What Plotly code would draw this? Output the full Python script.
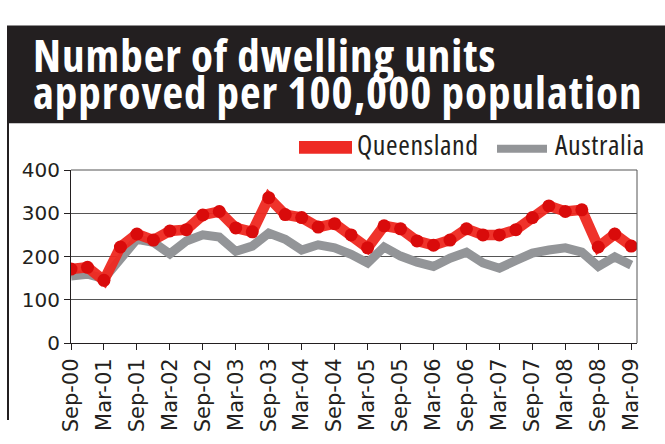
import plotly.graph_objects as go

quarters = ["Sep-00", "Dec-00", "Mar-01", "Jun-01", "Sep-01", "Dec-01", "Mar-02", "Jun-02",
            "Sep-02", "Dec-02", "Mar-03", "Jun-03", "Sep-03", "Dec-03", "Mar-04", "Jun-04",
            "Sep-04", "Dec-04", "Mar-05", "Jun-05", "Sep-05", "Dec-05", "Mar-06", "Jun-06",
            "Sep-06", "Dec-06", "Mar-07", "Jun-07", "Sep-07", "Dec-07", "Mar-08", "Jun-08",
            "Sep-08", "Dec-08", "Mar-09"]

queensland = [171, 175, 145, 222, 252, 238, 259, 262, 296, 304, 266, 257, 336, 297, 290, 268,
              276, 250, 220, 271, 264, 236, 226, 238, 264, 250, 250, 262, 290, 317, 304, 308,
              222, 252, 224]

australia = [155, 159, 149, 191, 240, 233, 206, 236, 250, 245, 212, 224, 254, 240, 215, 227,
             220, 205, 185, 222, 201, 187, 177, 196, 210, 185, 173, 191, 208, 215, 220, 210,
             177, 199, 180]

tick_labels = quarters[::2]
y_ticks = [0, 100, 200, 300, 400]

title_lines = ["Number of dwelling units", "approved per 100,000 population"]
series_names = ["Queensland", "Australia"]

W, H = 665, 444
L, R, T, B = 71, 28, 170, 83
PW, PH = W - L - R, H - T - B


def px(xp):
    return (xp - L) / PW


def py(yp):
    return (H - B - yp) / PH


def condensed(s, spacing):
    return ('<span style="font-stretch:condensed;letter-spacing:%spx">' % spacing) + s + '</span>'


RED = "rgba(238,40,32,0.95)"
RED_DOT = "#d90b0b"
GRAY = "#939598"
INK = "#231f20"
TFONT = "Open Sans"

fig = go.Figure()
fig.add_trace(go.Scatter(x=quarters, y=australia, mode="lines", name=series_names[1],
                         line=dict(color=GRAY, width=9), hoverinfo="skip"))
fig.add_trace(go.Scatter(x=quarters, y=queensland, mode="lines+markers", name=series_names[0],
                         line=dict(color=RED, width=10.5),
                         marker=dict(size=13, color=RED_DOT), hoverinfo="skip"))

shapes = [
    dict(type="rect", xref="paper", yref="paper", x0=px(7), x1=px(667), y0=py(118.5), y1=py(10.5),
         fillcolor=INK, line=dict(width=0), layer="below"),
    dict(type="line", xref="paper", yref="paper", x0=px(8), x1=px(8), y0=py(118), y1=py(446),
         line=dict(color=INK, width=2)),
    dict(type="line", xref="paper", yref="paper", x0=1, x1=1, y0=0, y1=1,
         line=dict(color="#555555", width=1)),
    dict(type="line", xref="paper", yref="paper", x0=0, x1=1, y0=1, y1=1,
         line=dict(color="#555555", width=1)),
    dict(type="rect", xref="paper", yref="paper", x0=px(299), x1=px(352), y0=py(152), y1=py(138),
         fillcolor="#ee2b24", line=dict(width=0)),
    dict(type="rect", xref="paper", yref="paper", x0=px(497), x1=px(547), y0=py(151), y1=py(142),
         fillcolor=GRAY, line=dict(width=0)),
]

annotations = [
    dict(text=condensed(title_lines[0], 1), xref="paper", yref="paper", x=px(31), y=py(42.5),
         xanchor="left", yanchor="middle", showarrow=False,
         font=dict(family=TFONT, size=45, color="white", weight="bold")),
    dict(text=condensed(title_lines[1], 1), xref="paper", yref="paper", x=px(31), y=py(83),
         xanchor="left", yanchor="middle", showarrow=False,
         font=dict(family=TFONT, size=45, color="white", weight="bold")),
    dict(text=condensed(series_names[0], 0.6), xref="paper", yref="paper", x=px(355), y=py(141.5),
         xanchor="left", yanchor="middle", showarrow=False,
         font=dict(family=TFONT, size=28, color=INK)),
    dict(text=condensed(series_names[1], 0.6), xref="paper", yref="paper", x=px(553), y=py(141.5),
         xanchor="left", yanchor="middle", showarrow=False,
         font=dict(family=TFONT, size=28, color=INK)),
]

fig.update_layout(
    width=W, height=H,
    margin=dict(l=L, r=R, t=T, b=B, pad=0),
    paper_bgcolor="white", plot_bgcolor="white",
    showlegend=False,
    shapes=shapes, annotations=annotations,
    xaxis=dict(range=[0, 34.35], tickmode="array", tickvals=tick_labels, ticktext=tick_labels,
               tickangle=-90, ticks="outside", ticklen=6, tickcolor=INK,
               showline=True, linecolor=INK, linewidth=1, showgrid=False, zeroline=False,
               tickfont=dict(family="DejaVu Sans", size=21, color=INK)),
    yaxis=dict(range=[0, 400], tickmode="array", tickvals=y_ticks,
               ticks="outside", ticklen=6, tickcolor=INK,
               showline=True, linecolor=INK, linewidth=1,
               showgrid=True, gridcolor="#555555", gridwidth=1, zeroline=False,
               tickfont=dict(family="DejaVu Sans", size=20, color=INK)),
)

fig.write_html("out.html", config={"displayModeBar": False},
               post_script="document.body.style.margin='0';")
